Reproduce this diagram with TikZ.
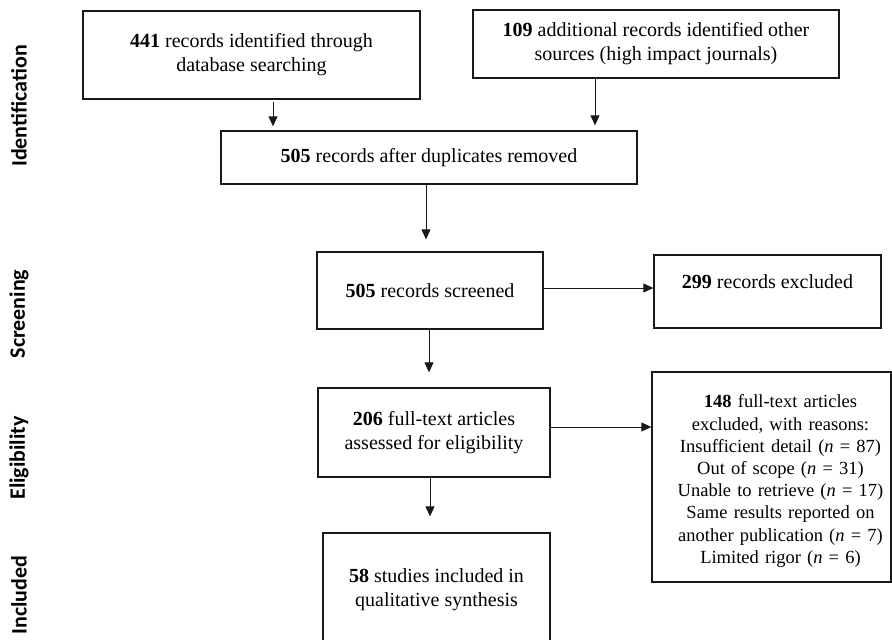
\documentclass[tikz,border=0pt]{standalone}
\usepackage{fontspec}
\setmainfont{Liberation Serif}
\newfontfamily\phasefont{Carlito}
\usetikzlibrary{arrows.meta,calc}
\tikzstyle{box}=[rectangle, draw=black!90, line width=1.3pt, align=center, inner sep=0pt, anchor=center, font=\fontsize{20}{24}\selectfont]
\tikzstyle{annot}=[align=center, inner sep=0pt, text width=230pt, font=\fontsize{18.5}{22.2}\selectfont]
\tikzstyle{phase}=[rotate=90, inner sep=0pt, font=\phasefont\bfseries\fontsize{22}{24}\selectfont]
\tikzstyle{arr}=[-{Triangle[length=10pt,width=9pt]}, line width=0.9pt, draw=black!90]
\newcommand{\nn}{\textit{n}}

\begin{document}
\begin{tikzpicture}[x=1pt,y=-1pt]
	\useasboundingbox (0,0) rectangle (892,640);

	% phase labels
	\node[phase](ident) at (19,106){Identification};
	\node[phase](screen) at (19,314){Screening};
	\node[phase](elig) at (19,458){Eligibility};
	\node[phase](incl) at (19,595){Included};

	% identification
	\node[box, minimum width=337pt, minimum height=88pt](db) at (251.5,55){\textbf{441} records identified through\\database searching};
	\node[box, minimum width=366pt, minimum height=68pt](other) at (656,44){\textbf{109} additional records identified other\\sources (high impact journals)};
	\node[box, minimum width=416pt, minimum height=53pt](dup) at (429,157.5){\textbf{505} records after duplicates removed};

	% screening
	\node[box, minimum width=226pt, minimum height=77pt](screened) at (430,290.5){\textbf{505} records screened};
	\node[box, minimum width=227pt, minimum height=73pt, text depth=20pt](excl) at (767.5,291.5){\textbf{299} records excluded};

	% eligibility
	\node[box, minimum width=232pt, minimum height=89pt](full) at (434,432.5){\textbf{206} full-text articles\\assessed for eligibility};
	\node[box, minimum width=239pt, minimum height=210pt](reasons) at (771.5,477){};
	\node[annot](reasonlist) at ([xshift=9pt,yshift=-4pt]reasons.center){\textbf{148} full-text articles\\excluded, with reasons:\\Insufficient detail (\nn{} = 87)\\Out of scope (\nn{} = 31)\\Unable to retrieve (\nn{} = 17)\\Same results reported on\\another publication (\nn{} = 7)\\Limited rigor (\nn{} = 6)};

	% included
	\node[box, minimum width=227pt, minimum height=114pt](studies) at (436.5,590){\textbf{58} studies included in\\qualitative synthesis};

	% connectors
	\draw[arr, shorten <=2pt, shorten >=4pt] ([xshift=21.5pt]db.south) -- ([xshift=21.5pt]db.south |- dup.north);
	\draw[arr, shorten >=5pt] ([xshift=-61pt]other.south) -- ([xshift=-61pt]other.south |- dup.north);
	\draw[arr, shorten >=12pt] ([xshift=-3pt]dup.south) -- ([xshift=-3pt]dup.south |- screened.north);
	\draw[arr] ([yshift=2.5pt]screened.east) -- ([yshift=2.5pt]screened.east -| excl.west);
	\draw[arr, shorten >=15pt] ([xshift=-1pt]screened.south) -- ([xshift=-1pt]screened.south |- full.north);
	\draw[arr] ([yshift=5.5pt]full.east) -- ([yshift=5.5pt]full.east -| reasons.west);
	\draw[arr, shorten >=16pt] ([xshift=-4pt]full.south) -- ([xshift=-4pt]full.south |- studies.north);

\end{tikzpicture}
\end{document}
